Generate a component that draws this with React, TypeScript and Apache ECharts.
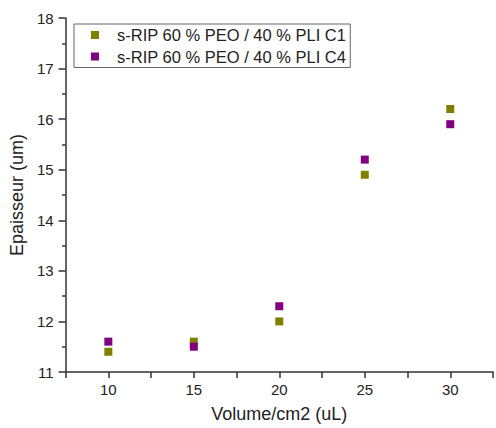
import React, { useEffect, useRef } from "react";
import * as echarts from "echarts";

const seriesNames = ["s-RIP 60 % PEO / 40 % PLI C1", "s-RIP 60 % PEO / 40 % PLI C4"];
const xValues = [10, 15, 20, 25, 30];
const c1Values = [11.4, 11.6, 12.0, 14.9, 16.2];
const c4Values = [11.6, 11.5, 12.3, 15.2, 15.9];
const colors = ["#808000", "#800080"];

export default function App() {
  const ref = useRef<HTMLDivElement>(null);
  useEffect(() => {
    const chart = echarts.init(ref.current!, null, { renderer: "svg" });
    const font = "Liberation Sans, Arial, sans-serif";
    const lineColor = "#333";
    chart.setOption({
      animation: false,
      backgroundColor: "#fff",
      grid: { left: 61, top: 18, width: 442.5, height: 356, containLabel: false },
      legend: {
        orient: "vertical",
        left: 74,
        top: 24,
        data: seriesNames,
        borderColor: "#666",
        borderWidth: 1,
        borderRadius: 0,
        padding: [1, 4, 1, 17],
        itemWidth: 8,
        itemHeight: 8,
        itemGap: 1.5,
        icon: "rect",
        itemStyle: { opacity: 1 },
        textStyle: {
          fontSize: 16.5,
          lineHeight: 20,
          color: "#222",
          fontFamily: font,
          padding: [0, 0, 0, 13],
        },
      },
      xAxis: {
        type: "value",
        min: 7.5,
        max: 32.5,
        interval: 2.5,
        name: "Volume/cm2 (uL)",
        nameLocation: "middle",
        nameGap: 33,
        nameTextStyle: { color: "#222", fontSize: 18, fontFamily: font },
        axisLine: { show: true, onZero: false, lineStyle: { color: lineColor, width: 1.5 } },
        axisTick: {
          show: true,
          inside: false,
          length: 6,
          lineStyle: { color: lineColor, width: 1.5 },
        },
        minorTick: { show: false },
        splitLine: { show: false },
        axisLabel: {
          color: "#222",
          fontSize: 15,
          fontFamily: font,
          margin: 10,
          formatter: (v: number) => (Number.isInteger(v) && v % 5 === 0 ? String(v) : ""),
        },
      },
      yAxis: {
        type: "value",
        min: 11,
        max: 18,
        interval: 1,
        name: "Epaisseur (um)",
        nameLocation: "middle",
        nameGap: 33,
        nameTextStyle: { color: "#222", fontSize: 18, fontFamily: font },
        axisLine: { show: true, onZero: false, lineStyle: { color: lineColor, width: 1.5 } },
        axisTick: {
          show: true,
          inside: false,
          length: 7,
          lineStyle: { color: lineColor, width: 1.5 },
        },
        minorTick: {
          show: true,
          splitNumber: 2,
          length: 3.5,
          lineStyle: { color: lineColor, width: 1.5 },
        },
        splitLine: { show: false },
        axisLabel: { color: "#222", fontSize: 15, fontFamily: font, margin: 12 },
      },
      series: [
        {
          name: seriesNames[0],
          type: "scatter",
          symbol: "rect",
          symbolSize: 8,
          itemStyle: { color: colors[0], opacity: 1 },
          data: xValues.map((x, i) => [x, c1Values[i]]),
        },
        {
          name: seriesNames[1],
          type: "scatter",
          symbol: "rect",
          symbolSize: 8,
          itemStyle: { color: colors[1], opacity: 1 },
          data: xValues.map((x, i) => [x, c4Values[i]]),
        },
      ],
    });
    return () => chart.dispose();
  }, []);
  return (
    <div
      ref={ref}
      style={{ position: "fixed", left: 0, top: 0, width: 496, height: 428 }}
    />
  );
}
